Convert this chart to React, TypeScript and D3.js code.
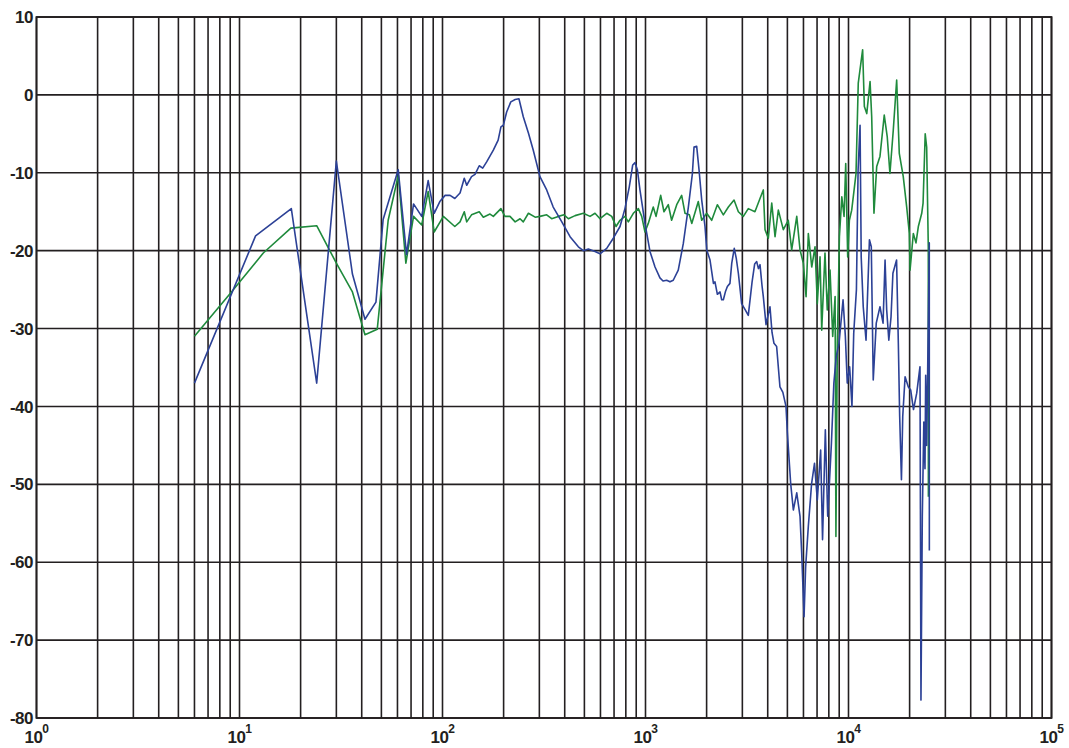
import React from 'react'
import * as d3 from 'd3'

// frequency response, dB vs Hz (log axis)
const blueFreq = [
  6, 12, 18, 24, 30, 36, 41.5, 47, 51, 60.5, 66.5, 72, 79, 85, 91, 97, 103, 109, 115, 122,
  128, 131.6, 139, 144.6, 151.7, 157.8, 165, 178, 188, 194, 199.4, 207, 217, 228, 238, 250,
  265, 280, 302, 326, 351, 387, 425, 467, 494, 523, 564, 597, 644, 694, 749, 792, 832, 865,
  888, 912, 939, 994, 1052, 1114, 1178, 1220, 1271, 1320, 1370, 1450, 1535, 1626, 1702, 1734,
  1787, 1835, 1892, 1964, 2003, 2079, 2161, 2199, 2260, 2329, 2373, 2418, 2480, 2531, 2606,
  2660, 2737, 2800, 2867, 2976, 3100, 3209, 3350, 3450, 3530, 3600, 3665, 3750, 3805, 3924,
  4000, 4104, 4200, 4294, 4426, 4596, 4750, 4921, 5000, 5190, 5350, 5560, 5770, 5880, 6040,
  6150, 6340, 6580, 6800, 7020, 7290, 7450, 7690, 7900, 8240, 8470, 8700, 8980, 9400, 9650,
  9860, 10130, 10400, 10610, 10940, 11150, 11400, 11550, 11820, 12200, 12680, 12950, 13240,
  13700, 14290, 14800, 15140, 15420, 15800, 16200, 16550, 17250, 17600, 17870, 18230, 18500,
  19000, 19720, 20250, 20900, 21680, 22500, 22750, 23100, 23500, 23810, 24000, 24270, 24700,
  25000, 25020,
]
const blueDb = [
  -37, -18.1, -14.6, -37, -8.5, -23, -28.8, -26.6, -16, -9.6, -20.5, -14, -15.6, -11, -15.2,
  -13.7, -12.9, -12.9, -13.3, -12.6, -10.7, -11.6, -10.5, -10.2, -9.1, -9.4, -8.6, -7.1, -5.8,
  -4.1, -3.9, -2.2, -0.9, -0.6, -0.5, -2.8, -4.9, -7.1, -10.5, -12.2, -14.4, -16.3, -18.2,
  -19.5, -20, -19.8, -20.1, -20.4, -19.7, -18.4, -16.9, -14.6, -11.8, -9, -8.7, -9.6, -12.2,
  -16.5, -20.1, -22.1, -23.5, -23.9, -23.8, -24, -23.8, -22.5, -19.1, -14.4, -10.1, -6.7,
  -6.6, -9.6, -13.5, -16.9, -19.9, -21.2, -24.2, -24, -25.6, -25.3, -26.3, -26.3, -25.2,
  -24.6, -24.2, -21.6, -19.7, -21, -22.9, -26.8, -27.6, -28.3, -24, -21.7, -21.4, -22.3,
  -21.8, -24.5, -25.9, -29.5, -28.5, -27.2, -30.5, -31.9, -32.3, -37.5, -38.2, -40, -43.4,
  -49.9, -53.3, -51.1, -54.1, -58.8, -67, -60.6, -55.4, -49.9, -47.3, -52, -45.6, -57.1, -43,
  -54.1, -44.7, -37, -33.6, -31.9, -26.3, -31, -37, -34.9, -40, -30.6, -25, -9.6, -3.9, -20.8,
  -27.2, -31.5, -18.6, -19.5, -36.6, -29.3, -27.2, -29.3, -21.2, -27.6, -31.5, -28.5, -22.9,
  -21.2, -31.9, -41.3, -49.4, -41.3, -36.2, -37.5, -37.9, -40.4, -38.3, -34.9, -77.7, -54.1,
  -42, -48, -36, -45, -30, -19, -58.5,
]

const greenFreq = [
  6, 9, 13.1, 17.9, 24, 30, 36, 41.5, 47.7, 54, 60.6, 66, 72, 79, 85, 91, 101, 115, 122, 128,
  131.6, 139, 151.7, 158.9, 171.4, 178, 194, 203, 215, 228, 241, 250, 265, 286, 302, 326, 345,
  372, 397, 417, 450, 494, 533, 564, 597, 644, 682, 716, 749, 792, 823, 871, 922, 958, 994,
  1032, 1092, 1127, 1188, 1233, 1295, 1345, 1425, 1507, 1566, 1644, 1690, 1820, 1892, 2002,
  2119, 2259, 2418, 2560, 2730, 2867, 3034, 3209, 3460, 3665, 3805, 3880, 4028, 4187, 4347,
  4512, 4774, 5050, 5250, 5560, 5770, 5990, 6180, 6340, 6590, 6840, 7020, 7240, 7380, 7660,
  7860, 8110, 8360, 8590, 8670, 8810, 9020, 9270, 9510, 9690, 9910, 10100, 10370, 10890,
  11170, 11740, 11970, 12300, 12770, 13010, 13350, 13770, 14290, 15000, 15520, 16000, 16620,
  17270, 17790, 18610, 19350, 19940, 20100, 20860, 21500, 22080, 22950, 23300, 23870, 24270,
  24720, 24750,
]
const greenDb = [
  -31, -25.5, -20.3, -17.1, -16.8, -21.6, -25.3, -30.8, -30.1, -16.1, -10.3, -21.6, -15.6,
  -16.7, -12.4, -17.6, -15.6, -16.9, -16.3, -15, -16.3, -15.4, -15, -15.7, -15.3, -15.6,
  -14.6, -15.6, -15.6, -16.3, -15.9, -16.3, -15.2, -15.7, -15.6, -15.4, -15.9, -15.6, -15.4,
  -15.9, -15.5, -15.2, -15.6, -15.2, -15.9, -15.2, -15.6, -16.9, -16.1, -15.6, -16.3, -15.2,
  -14.6, -15.6, -17.6, -16.5, -14.4, -15.6, -12.9, -15, -14.1, -16.1, -14.1, -12.9, -15.2,
  -15.4, -16.5, -13.7, -16.1, -15.2, -16.1, -14.1, -15.4, -14.4, -13.5, -15, -15.6, -14.6,
  -15, -13.3, -12.2, -17.3, -18.4, -13.9, -18.2, -14.8, -17.3, -16.1, -19.9, -15.6, -19.9,
  -21.6, -25.9, -17.8, -22.1, -19.5, -26.8, -20.8, -30.2, -20.3, -27.6, -22.5, -31, -25.9,
  -56.7, -31.9, -18.2, -13.1, -15.6, -8.8, -20.8, -16.1, -14.8, -10.1, 1.5, 5.8, -1.5, -2.4,
  1.7, -2.8, -15.2, -9.2, -7.9, -2.6, -5.4, -10.1, -4.5, 1.9, -7.5, -10.5, -14.4, -17.8,
  -22.5, -17.8, -19, -16.9, -15.2, -13.9, -5, -6.7, -19.5, -51.6,
]

const yTicks = [-80, -70, -60, -50, -40, -30, -20, -10, 0, 10]
const xDecades = [0, 1, 2, 3, 4, 5]

const W = 1069
const H = 748
const left = 36.5
const right = 1051.5
const top = 17
const bottom = 718
const gridColor = '#231f20'
const font = '"Liberation Sans", Arial, sans-serif'

const App = () => {
  const x = d3.scaleLog().domain([1, 1e5]).range([left, right])
  const y = d3.scaleLinear().domain([-80, 10]).range([bottom, top])

  const line = d3
    .line<[number, number]>()
    .x(d => x(d[0]))
    .y(d => y(d[1]))

  const blue = line(blueFreq.map((f, i) => [f, blueDb[i]]))
  const green = line(greenFreq.map((f, i) => [f, greenDb[i]]))

  const vLines = x.ticks()
  return (
    <svg
      width={W}
      height={H}
      style={{ position: 'absolute', left: 0, top: 0, background: '#fff' }}
    >
      <rect width={W} height={H} fill="#fff" />
      {vLines.map(t => (
        <line
          key={`v${t}`}
          x1={x(t)}
          x2={x(t)}
          y1={top}
          y2={bottom}
          stroke={gridColor}
          strokeWidth={1.6}
        />
      ))}
      {yTicks.map(t => (
        <line
          key={`h${t}`}
          x1={left}
          x2={right}
          y1={y(t)}
          y2={y(t)}
          stroke={gridColor}
          strokeWidth={1.6}
        />
      ))}
      <rect
        x={left}
        y={top}
        width={right - left}
        height={bottom - top}
        fill="none"
        stroke={gridColor}
        strokeWidth={1.8}
      />
      <path d={green || ''} fill="none" stroke="#1f8a3c" strokeWidth={1.6} strokeLinejoin="round" />
      <path d={blue || ''} fill="none" stroke="#2c4196" strokeWidth={1.6} strokeLinejoin="round" />
      {yTicks.map(t => (
        <text
          key={`yl${t}`}
          x={33}
          y={y(t)}
          dy="0.36em"
          textAnchor="end"
          fontFamily={font}
          fontWeight="bold"
          fontSize={17}
          letterSpacing={-0.5}
          fill="#231f20"
        >
          {t}
        </text>
      ))}
      {xDecades.map(n => (
        <text
          key={`xl${n}`}
          x={x(Math.pow(10, n))}
          y={743}
          textAnchor="middle"
          fontFamily={font}
          fontWeight="bold"
          fontSize={17}
          letterSpacing={-0.5}
          fill="#231f20"
        >
          10
          <tspan dy={-10} fontSize={12}>
            {n}
          </tspan>
        </text>
      ))}
    </svg>
  )
}

export default App
